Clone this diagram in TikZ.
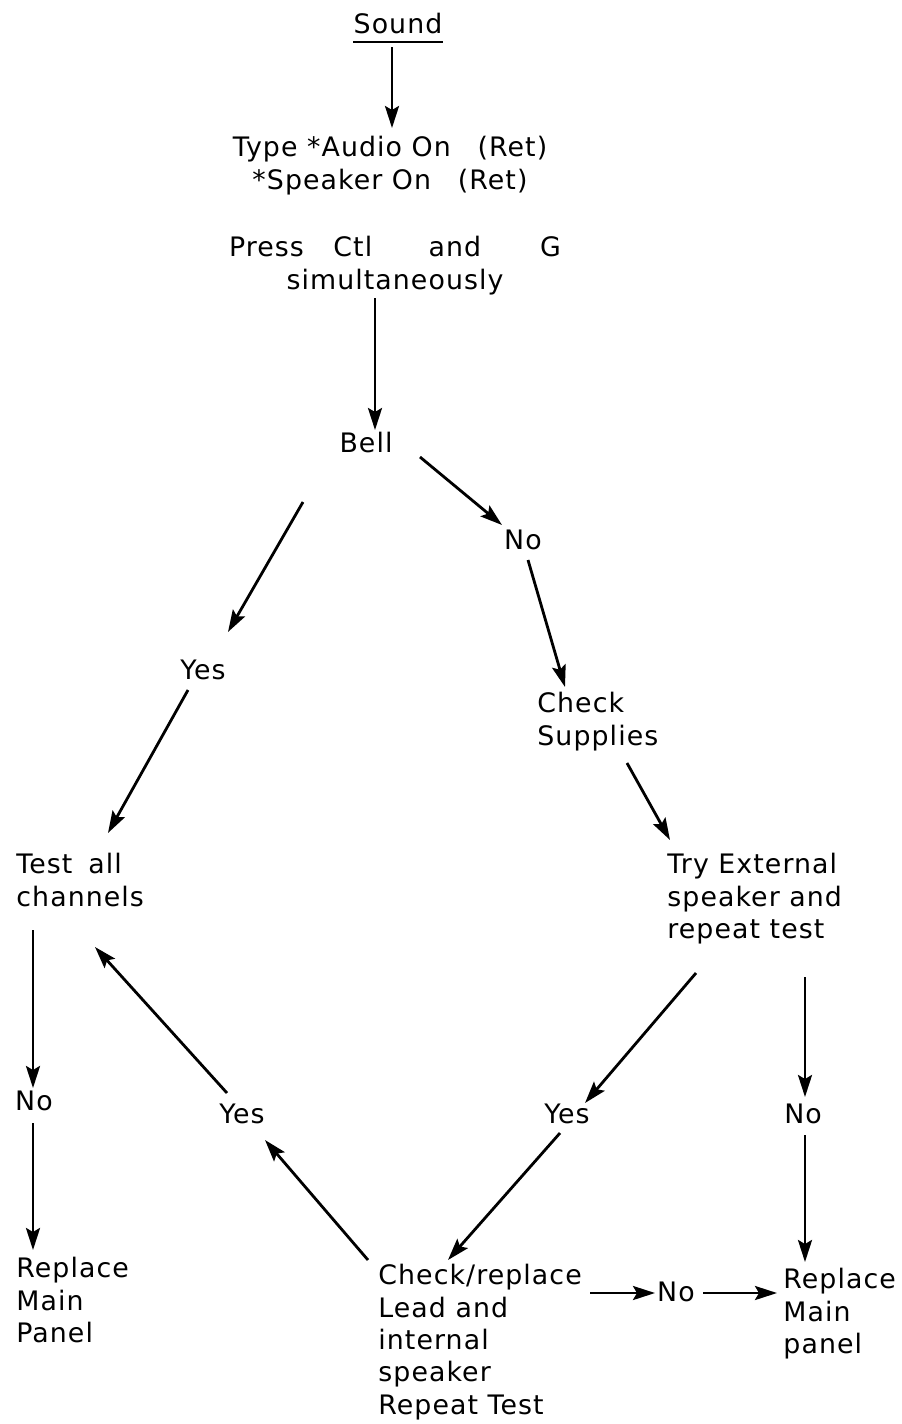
\documentclass[tikz,border=0pt]{standalone}
\usepackage{fontspec}
\setmainfont{DejaVu Sans}[LetterSpace=4.0]
\usetikzlibrary{arrows.meta}
\tikzset{
  lbl/.style={font=\fontsize{13.4}{16.2}\selectfont, inner sep=0pt, text=black},
  lblock/.style={lbl, align=left, anchor=north west},
  cblock/.style={lbl, align=center, anchor=north},
  word/.style={lbl, anchor=base},
  conn/.style={line width=1.4pt, -{Stealth[length=11pt,width=7pt,inset=2pt]}},
}
\begin{document}
\begin{tikzpicture}[x=0.5pt,y=-0.5pt]
\useasboundingbox (0,0) rectangle (901,1424);
% texts
\node[word] (sound) at (398,33) {Sound};
\draw[line width=1.3pt] ([yshift=-4.5pt]sound.base west) -- ([yshift=-4.5pt]sound.base east);
\node[cblock] (type) at (390,136) {Type *Audio On\quad(Ret)\\*Speaker On\quad(Ret)};
\node[cblock] (press) at (395,236) {Press\hspace{1.1em}Ctl\hspace{2.1em}and\hspace{2.2em}G\\simultaneously};
\node[word] (bell) at (366,452) {Bell};
\node[word] (no1) at (523,549) {No};
\node[lblock] (chk) at (537,692) {Check\\Supplies};
\node[word] (yes1) at (203,679) {Yes};
\node[lblock] (test) at (16,853) {Test\hspace{0.6em}all\\channels};
\node[lblock] (try) at (667,853) {Try External\\speaker and\\repeat test};
\node[word] (no2) at (34,1110) {No};
\node[word] (yes2) at (242,1123) {Yes};
\node[word] (yes3) at (567,1123) {Yes};
\node[word] (no3) at (803,1123) {No};
\node[lblock] (rep1) at (16,1257) {Replace\\Main\\Panel};
\node[lblock] (chkrep) at (378,1264) {Check/replace\\Lead and\\internal\\speaker\\Repeat Test};
\node[word] (no4) at (676,1301) {No};
\node[lblock] (rep2) at (783,1268) {Replace\\Main\\panel};
% connector end points
\coordinate (a1s) at (392,47);   \coordinate (a1e) at (392,128);
\coordinate (a2s) at (375,298);  \coordinate (a2e) at (375,430);
\coordinate (a3s) at (420,457);  \coordinate (a3e) at (502,525);
\coordinate (a4s) at (528,560);  \coordinate (a4e) at (565,687);
\coordinate (a5s) at (303,502);  \coordinate (a5e) at (228,632);
\coordinate (a6s) at (188,690);  \coordinate (a6e) at (108,833);
\coordinate (a7s) at (627,763);  \coordinate (a7e) at (670,840);
\coordinate (a8s) at (33,930);   \coordinate (a8e) at (33,1088);
\coordinate (a9s) at (33,1123);  \coordinate (a9e) at (33,1250);
\coordinate (a10s) at (696,973); \coordinate (a10e) at (585,1103);
\coordinate (a11s) at (805,977); \coordinate (a11e) at (805,1097);
\coordinate (a12s) at (560,1133);\coordinate (a12e) at (448,1260);
\coordinate (a13s) at (805,1135);\coordinate (a13e) at (805,1262);
\coordinate (a14s) at (368,1260);\coordinate (a14e) at (265,1140);
\coordinate (a15s) at (227,1093);\coordinate (a15e) at (95,947);
\coordinate (a16s) at (590,1293);\coordinate (a16e) at (655,1293);
\coordinate (a17s) at (703,1293);\coordinate (a17e) at (777,1293);
% connectors
\draw[conn] (a1s) -- (a1e);
\draw[conn] (a2s) -- (a2e);
\draw[conn] (a3s) -- (a3e);
\draw[conn] (a4s) -- (a4e);
\draw[conn] (a5s) -- (a5e);
\draw[conn] (a6s) -- (a6e);
\draw[conn] (a7s) -- (a7e);
\draw[conn] (a8s) -- (a8e);
\draw[conn] (a9s) -- (a9e);
\draw[conn] (a10s) -- (a10e);
\draw[conn] (a11s) -- (a11e);
\draw[conn] (a12s) -- (a12e);
\draw[conn] (a13s) -- (a13e);
\draw[conn] (a14s) -- (a14e);
\draw[conn] (a15s) -- (a15e);
\draw[conn] (a16s) -- (a16e);
\draw[conn] (a17s) -- (a17e);
\end{tikzpicture}
\end{document}
